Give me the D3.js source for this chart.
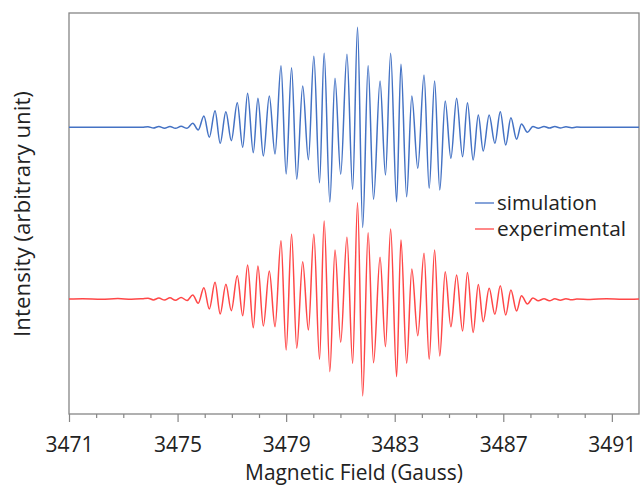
<!DOCTYPE html>
<html><head><meta charset="utf-8">
<script src="https://cdn.jsdelivr.net/npm/d3@7"></script>
<style>body{margin:0;background:#fff}svg{display:block}text{font-family:"Open Sans",sans-serif;fill:#222}</style>
</head><body>
<svg id="c" width="640" height="488"></svg>
<script>
// ---- data ----
const seriesNames = ["simulation", "experimental"];
const xTickLabels = [3471, 3475, 3479, 3483, 3487, 3491];
const xMinorTicks = [3472,3473,3474,3476,3477,3478,3480,3481,3482,3484,3485,3486,3488,3489,3490];
const xTitle = "Magnetic Field (Gauss)";
const yTitle = "Intensity (arbitrary unit)";

const simField = [3471,3473.69,3473.91,3474.11,3474.31,3474.52,3474.72,3474.92,3475.13,3475.35,
 3475.56,3475.76,3475.97,3476.17,3476.38,3476.57,3476.78,3476.98,3477.20,3477.40,
 3477.58,3477.79,3477.96,3478.16,3478.38,3478.59,3478.81,3479.00,3479.20,3479.39,
 3479.61,3479.82,3480.02,3480.23,3480.40,3480.61,3480.80,3481.01,3481.24,3481.45,
 3481.63,3481.82,3482.02,3482.22,3482.46,3482.66,3482.85,3483.07,3483.23,3483.44,
 3483.63,3483.85,3484.08,3484.27,3484.47,3484.66,3484.86,3485.07,3485.28,3485.50,
 3485.68,3485.89,3486.08,3486.26,3486.48,3486.69,3486.89,3487.09,3487.28,3487.49,
 3487.67,3487.89,3488.09,3488.29,3488.50,3488.70,3488.90,3489.10,3489.31,3489.51,
 3489.71,3490.0,3492];
const simIntensity = [0,0,0.6,-0.8,0.8,-0.9,0.9,-1,1,-1,
 4,-2.7,11.3,-10,16.6,-16,15.6,-13.4,24.6,-20,
 34,-25.4,29,-28.7,31.3,-26.7,61.6,-46.7,59.6,-52,
 41.3,-32.4,71,-55.4,74,-74.7,49,-47,73,-62,
 100,-100.2,61.6,-72,46.3,-47.7,74,-74.4,63,-69.4,
 31.3,-41,52.3,-61,46.3,-62.7,26.3,-31,29,-29.4,
 24.6,-32.7,12.3,-23.7,12.3,-16,15.6,-17.7,9.6,-12,
 3.3,-5,0.8,-0.9,0.8,-0.8,0.8,-0.6,0.5,-0.4,
 0.2,0,0];

const expField = [3471,3471.5,3472.2,3472.8,3473.3,3473.7,3473.91,3474.11,3474.31,3474.52,3474.72,3474.92,3475.13,3475.35,
 3475.56,3475.76,3475.97,3476.17,3476.38,3476.57,3476.78,3476.98,3477.20,3477.40,
 3477.58,3477.79,3477.96,3478.16,3478.38,3478.59,3478.81,3479.00,3479.20,3479.39,
 3479.61,3479.82,3480.02,3480.23,3480.40,3480.61,3480.80,3481.01,3481.24,3481.45,
 3481.63,3481.82,3482.02,3482.22,3482.46,3482.66,3482.85,3483.07,3483.23,3483.44,
 3483.63,3483.85,3484.08,3484.27,3484.47,3484.66,3484.86,3485.07,3485.28,3485.50,
 3485.68,3485.89,3486.08,3486.26,3486.48,3486.69,3486.89,3487.09,3487.28,3487.49,
 3487.67,3487.89,3488.09,3488.29,3488.50,3488.70,3488.90,3489.10,3489.31,3489.51,
 3489.71,3490.2,3490.8,3491.4,3492];
const expIntensity = [0,0.3,-0.3,0.4,-0.3,0.3,0.8,-0.9,0.9,-1,1.2,-1.3,1.5,-1.5,
 4,-4.3,11.3,-10,16.7,-15,14.7,-11.7,23.3,-16.7,
 34,-28.7,33,-27,28,-27.7,58.3,-51,64.7,-49.3,
 37.3,-31,64.7,-60.3,78,-72.7,49,-43.3,61.7,-64.3,
 96.3,-97,66.3,-63.7,41.7,-47.7,70,-77.7,59,-64.3,
 30,-36.7,45.7,-60.3,49,-57,27.3,-27.7,24,-32,
 26.5,-33.5,14.5,-22.7,10.7,-15.3,13.3,-16,9,-12,
 3.3,-5,1,-1.8,0.3,-1.8,0.2,-1.2,0.3,-0.8,
 0,-0.4,0.2,-0.3,0];

const seriesOffsets = [286.7, 115];   // vertical stacking of the two traces (arbitrary units)
const seriesColors = ["#4472C4", "#FF4747"];

// ---- drawing ----
const svg = d3.select("#c");
const m = {l: 69, r: 639, t: 13, b: 414};
const x = d3.scaleLinear().domain([3471, 3492]).range([m.l, m.r]);
const y = d3.scaleLinear().domain([0, 401]).range([m.b, m.t]);

// frame
svg.append("rect").attr("x", m.l).attr("y", m.t).attr("width", m.r - m.l).attr("height", m.b - m.t)
  .attr("fill", "none").attr("stroke", "#868686").attr("stroke-width", 1.3);

// minor ticks
const minor = svg.append("g").attr("transform", `translate(0,${m.b})`)
  .call(d3.axisBottom(x).tickValues(xMinorTicks).tickSize(4).tickFormat(""));
minor.select(".domain").remove();
minor.selectAll("line").attr("stroke", "#868686").attr("stroke-width", 1.2);

// major ticks
const major = svg.append("g").attr("transform", `translate(0,${m.b})`)
  .call(d3.axisBottom(x).tickValues(xTickLabels).tickSize(8).tickPadding(15).tickFormat(d3.format("d")));
major.select(".domain").remove();
major.selectAll("line").attr("stroke", "#868686").attr("stroke-width", 1.2);
major.selectAll("text").attr("font-size", "21px").attr("font-family", "Open Sans").attr("fill", "#222");

// traces
const series = [
  {field: simField, intensity: simIntensity},
  {field: expField, intensity: expIntensity}
];
const line = d3.line().curve(d3.curveMonotoneX);
series.forEach((s, i) => {
  const pts = s.field.map((f, k) => [x(f), y(s.intensity[k] + seriesOffsets[i])]);
  svg.append("path").attr("d", line(pts)).attr("fill", "none")
    .attr("stroke", seriesColors[i]).attr("stroke-width", 1.5).attr("stroke-linejoin", "round");
});

function fit(sel, target) {
  sel.attr("font-size", "20px");
  const w = sel.node().getComputedTextLength();
  sel.attr("font-size", (20 * target / w).toFixed(2) + "px");
}

// axis titles
const xt = svg.append("text").attr("x", 354).attr("y", 480).attr("text-anchor", "middle").text(xTitle);
fit(xt, 218);
const yt = svg.append("text").attr("transform", "translate(30,214) rotate(-90)").attr("text-anchor", "middle").text(yTitle);
fit(yt, 246);

// legend
const legY = [203, 229];
seriesNames.forEach((n, i) => {
  svg.append("line").attr("x1", 475).attr("x2", 494).attr("y1", legY[i]).attr("y2", legY[i])
    .attr("stroke", seriesColors[i]).attr("stroke-width", 1.3);
  const t = svg.append("text").attr("x", 497).attr("y", legY[i] + 7).text(n);
  fit(t, i === 0 ? 100 : 129);
});
</script>
</body></html>
